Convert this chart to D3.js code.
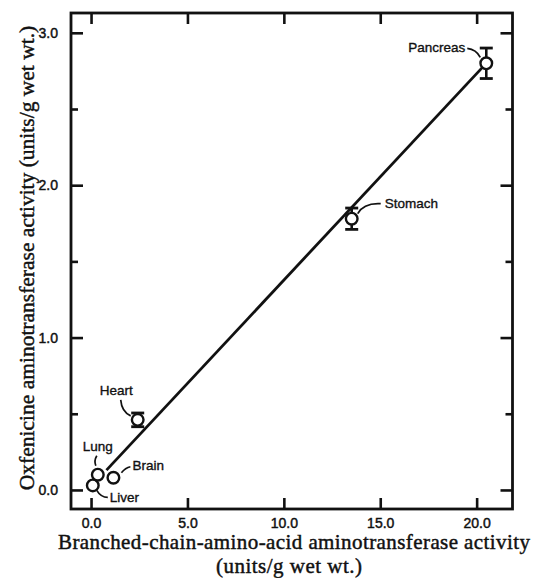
<!DOCTYPE html>
<html lang="en">
<head>
<meta charset="UTF-8" />
<title>Oxfenicine vs BCAA aminotransferase activity</title>
<script src="https://d3js.org/d3.v7.min.js"></script>
<style>
    body { margin: 0; background: #fff; }
    .tick text { font-family: "Liberation Sans", Arial, sans-serif; font-size: 14px; fill: #111; stroke: #111; stroke-width: 0.45; }
    .tick line { stroke: #111; stroke-width: 2.6; }
    .axis-title { font-family: "Liberation Serif", "Times New Roman", serif; font-size: 21.5px; fill: #111; stroke: #111; stroke-width: 0.45; }
    .pt-label { font-family: "Liberation Sans", Arial, sans-serif; font-size: 13.5px; fill: #111; stroke: #111; stroke-width: 0.35; }
</style>
</head>
<body>
<div id="chart"></div>
<script>
    // data
    const tissues = ["Liver", "Lung", "Brain", "Heart", "Stomach", "Pancreas"];
    const bcaaActivity = [0.09, 0.35, 1.16, 2.42, 13.52, 20.5];
    const oxfActivity = [0.03, 0.10, 0.08, 0.46, 1.78, 2.80];
    const oxfError = [0, 0, 0, 0.045, 0.07, 0.10];

    // regression line end points
    const fitX = [0.8, 20.35];
    const fitY = [0.13, 2.78];

    const xTicks = [0, 5, 10, 15, 20];
    const yTicks = [0, 1, 2, 3];
    const yMinorTicks = [0.5, 1.5, 2.5];

    // label placement (pixel offsets from the point)
    const labelPos = {
        Liver:    { dx: 17,  dy: 17,  anchor: "start", lead: [4, 5, 8, 12, 15, 12] },
        Lung:     { dx: -15, dy: -24, anchor: "start", lead: [-2, -9, -4, -14, -1, -19] },
        Brain:    { dx: 19,  dy: -8,  anchor: "start", lead: [8, -5, 12, -10, 17, -11] },
        Heart:    { dx: -38, dy: -25, anchor: "start", lead: [-7, -4, -16, -8, -17, -20] },
        Stomach:  { dx: 33,  dy: -11, anchor: "start", lead: [6, -5, 12, -16, 29, -15] },
        Pancreas: { dx: -21, dy: -11, anchor: "end",   lead: [-6, -6, -10, -14, -19, -15] }
    };

    const W = 539, H = 578;
    const frame = { left: 71, right: 512.5, top: 13, bottom: 509 };

    const svg = d3.select("#chart").append("svg")
        .attr("width", W)
        .attr("height", H);

    const x = d3.scaleLinear().domain([-1.04, 21.86]).range([frame.left, frame.right]);
    const y = d3.scaleLinear().domain([-0.125, 3.13]).range([frame.bottom, frame.top]);

    // axes, ticks pointing inward
    const styleAxis = g => g.select(".domain").remove();

    svg.append("g")
        .attr("transform", `translate(${frame.left},0)`)
        .call(d3.axisLeft(y).tickValues(yTicks).tickFormat(d3.format(".1f")).tickSize(-12).tickPadding(13))
        .call(styleAxis);
    svg.append("g")
        .attr("transform", `translate(${frame.left},0)`)
        .call(d3.axisLeft(y).tickValues(yMinorTicks).tickFormat("").tickSize(-7))
        .call(styleAxis);
    svg.append("g")
        .attr("transform", `translate(${frame.right},0)`)
        .call(d3.axisRight(y).tickValues(yTicks).tickFormat("").tickSize(-12))
        .call(styleAxis);
    svg.append("g")
        .attr("transform", `translate(${frame.right},0)`)
        .call(d3.axisRight(y).tickValues(yMinorTicks).tickFormat("").tickSize(-7))
        .call(styleAxis);
    svg.append("g")
        .attr("transform", `translate(0,${frame.bottom})`)
        .call(d3.axisBottom(x).tickValues(xTicks).tickFormat(d3.format(".1f")).tickSize(-11).tickPadding(9))
        .call(styleAxis);
    svg.append("g")
        .attr("transform", `translate(0,${frame.top})`)
        .call(d3.axisTop(x).tickValues(xTicks).tickFormat("").tickSize(-11))
        .call(styleAxis);

    svg.append("rect")
        .attr("x", frame.left).attr("y", frame.top)
        .attr("width", frame.right - frame.left)
        .attr("height", frame.bottom - frame.top)
        .attr("fill", "none")
        .attr("stroke", "#111")
        .attr("stroke-width", 2.8);

    // axis titles
    svg.append("text")
        .attr("class", "axis-title")
        .attr("x", 294).attr("y", 549)
        .attr("text-anchor", "middle")
        .attr("textLength", 472)
        .attr("lengthAdjust", "spacing")
        .style("font-size", "21px")
        .text("Branched-chain-amino-acid aminotransferase activity");
    svg.append("text")
        .attr("class", "axis-title")
        .attr("x", 289).attr("y", 572.5)
        .attr("text-anchor", "middle")
        .attr("textLength", 146)
        .attr("lengthAdjust", "spacing")
        .style("font-size", "21px")
        .text("(units/g wet wt.)");
    svg.append("text")
        .attr("class", "axis-title")
        .attr("transform", "translate(34,258) rotate(-90)")
        .attr("text-anchor", "middle")
        .text("Oxfenicine aminotransferase activity (units/g wet wt.)");

    // regression line
    svg.append("line")
        .attr("x1", x(fitX[0])).attr("y1", y(fitY[0]))
        .attr("x2", x(fitX[1])).attr("y2", y(fitY[1]))
        .attr("stroke", "#111")
        .attr("stroke-width", 2.8);

    const pts = tissues.map((t, i) => ({ name: t, x: bcaaActivity[i], y: oxfActivity[i], err: oxfError[i] }));

    // error bars
    const eb = svg.selectAll(".err").data(pts.filter(d => d.err > 0)).enter().append("g");
    eb.append("line")
        .attr("x1", d => x(d.x)).attr("x2", d => x(d.x))
        .attr("y1", d => y(d.y - d.err)).attr("y2", d => y(d.y + d.err))
        .attr("stroke", "#111").attr("stroke-width", 2.6);
    [-1, 1].forEach(s => {
        eb.append("line")
            .attr("x1", d => x(d.x) - 6.5).attr("x2", d => x(d.x) + 6.5)
            .attr("y1", d => y(d.y + s * d.err)).attr("y2", d => y(d.y + s * d.err))
            .attr("stroke", "#111").attr("stroke-width", 2.8);
    });

    // points
    svg.selectAll(".pt").data(pts).enter().append("circle")
        .attr("cx", d => x(d.x)).attr("cy", d => y(d.y))
        .attr("r", 5.8)
        .attr("fill", "#fff")
        .attr("stroke", "#111")
        .attr("stroke-width", 2.4);

    // labels and leader curves
    pts.forEach(d => {
        const p = labelPos[d.name];
        const cx = x(d.x), cy = y(d.y);
        const l = p.lead;
        svg.append("path")
            .attr("d", `M${cx + l[0]},${cy + l[1]} Q${cx + l[2]},${cy + l[3]} ${cx + l[4]},${cy + l[5]}`)
            .attr("fill", "none")
            .attr("stroke", "#111")
            .attr("stroke-width", 1.7);
        svg.append("text")
            .attr("class", "pt-label")
            .attr("x", cx + p.dx).attr("y", cy + p.dy)
            .attr("text-anchor", p.anchor)
            .text(d.name);
    });
</script>
</body>
</html>
